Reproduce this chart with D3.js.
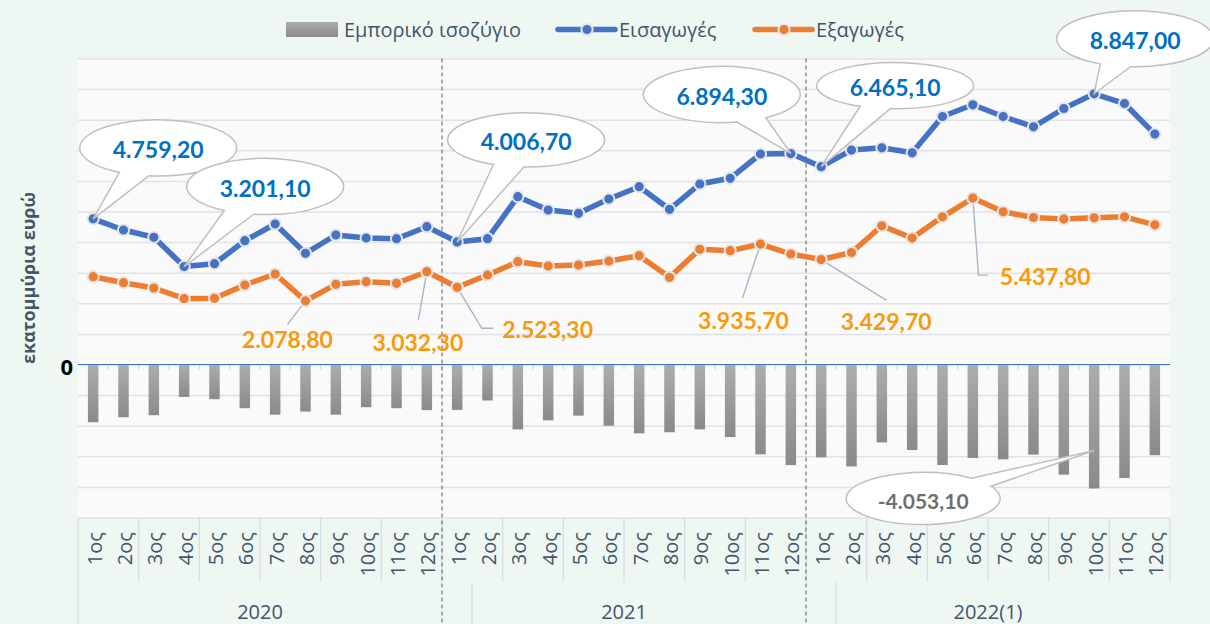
<!DOCTYPE html>
<html>
<head>
<meta charset="utf-8">
<script src="https://cdn.jsdelivr.net/npm/d3@7"></script>
<style>
  html, body { margin: 0; padding: 0; background: #eff7f3; }
</style>
</head>
<body>
<div id="chart"></div>
<script>
// ---- data ----
var years = ["2020", "2021", "2022(1)"];
var months = ["1ος", "2ος", "3ος", "4ος", "5ος", "6ος", "7ος", "8ος", "9ος", "10ος", "11ος", "12ος"];
var seriesNames = ["Εμπορικό ισοζύγιο", "Εισαγωγές", "Εξαγωγές"];
var yTitle = "εκατομμύρια ευρώ";

var imports = [
  4759.2, 4395, 4157, 3201.1, 3294, 4046, 4591, 3634, 4232, 4134, 4111, 4503,
  4006.7, 4111, 5484, 5049, 4941, 5408, 5810, 5072, 5899, 6085, 6879, 6894.3,
  6465.1, 7007, 7082, 6918, 8105, 8487, 8105, 7768, 8366, 8847.0, 8529, 7529
];
var exportsV = [
  2869, 2673, 2500, 2150, 2163, 2598, 2958, 2078.8, 2621, 2706, 2654, 3032.3,
  2523.3, 2925, 3359, 3219, 3252, 3382, 3556, 2850, 3765, 3719, 3935.7, 3611,
  3429.7, 3660, 4533, 4131, 4827, 5437.8, 4990, 4804, 4752, 4793.9, 4827, 4565
];
var balance = [
  -1886, -1722, -1657, -1060, -1134, -1428, -1640, -1540, -1640, -1395, -1428, -1490,
  -1483.4, -1176, -2120, -1825, -1670, -2000, -2250, -2215, -2120, -2370, -2935, -3287,
  -3035.4, -3330, -2545, -2795, -3285, -3055, -3100, -2945, -3600, -4053.1, -3710, -2964
];
var yTicks = d3.range(-5000, 10001, 1000);

// which points carry a value label
var importLabels = [0, 3, 12, 23, 24, 33];
var exportLabels = [7, 11, 12, 22, 24, 29];
var balanceLabels = [33];

// ---- layout ----
var width = 1210, height = 624;
var plot = {left: 78, right: 1170, top: 58.5, bottom: 517.5};
var blue = "#4472c4", orange = "#ed7d31", axisText = "#44546a";
var greek = "'Open Sans', 'Noto Sans', sans-serif";
var nums = "Lato, 'Open Sans', sans-serif";

var cats = [];
years.forEach(function(y) { months.forEach(function(m) { cats.push(y + "|" + m); }); });

var fmt = d3.formatLocale({decimal: ",", thousands: ".", grouping: [3], currency: ["", "€"], minus: "-"}).format(",.2f");

var svg = d3.select("#chart").append("svg")
  .attr("width", width)
  .attr("height", height)
  .style("display", "block");

var x = d3.scaleBand().domain(d3.range(cats.length)).range([plot.left, plot.right]).padding(0);
var bw = x.bandwidth();
var cx = function(i) { return x(i) + bw / 2; };
var y = d3.scaleLinear().domain([-5000, 10000]).range([plot.bottom, plot.top]);

var defs = svg.append("defs");
var grad = defs.append("linearGradient").attr("id", "barGrad")
  .attr("x1", 0).attr("y1", 0).attr("x2", 0).attr("y2", 1);
grad.append("stop").attr("offset", "0%").attr("stop-color", "#adadad");
grad.append("stop").attr("offset", "100%").attr("stop-color", "#8a8a8a");

// background
svg.append("rect").attr("width", width).attr("height", height).attr("fill", "#eff7f3");
svg.append("rect")
  .attr("x", plot.left).attr("y", plot.top)
  .attr("width", plot.right - plot.left).attr("height", plot.bottom - plot.top)
  .attr("fill", "#fafafa");

// gridlines
svg.append("g")
  .attr("transform", "translate(" + plot.left + ",0)")
  .call(d3.axisLeft(y).tickValues(yTicks).tickSize(-(plot.right - plot.left)).tickFormat(""))
  .call(function(g) {
    g.select(".domain").remove();
    g.selectAll(".tick line").attr("stroke", "#dfe2e8").attr("stroke-width", 1.5);
  });

// category axis separators (every second month)
var sepIdx = d3.range(0, cats.length + 1, 2);
svg.append("g").selectAll("line").data(sepIdx).join("line")
  .attr("x1", function(d) { return d < cats.length ? x(d) : plot.right; })
  .attr("x2", function(d) { return d < cats.length ? x(d) : plot.right; })
  .attr("y1", plot.bottom).attr("y2", 582)
  .attr("stroke", "#dadde3").attr("stroke-width", 1.3);

// year level separators
svg.append("g").selectAll("line").data([plot.left, 472, 836]).join("line")
  .attr("x1", function(d) { return d; }).attr("x2", function(d) { return d; })
  .attr("y1", 582).attr("y2", height)
  .attr("stroke", "#dadde3").attr("stroke-width", 1.3);

// bars
svg.append("g").selectAll("rect").data(balance).join("rect")
  .attr("x", function(d, i) { return cx(i) - 5.25; })
  .attr("y", y(0))
  .attr("width", 10.5)
  .attr("height", function(d) { return y(d) - y(0); })
  .attr("fill", "url(#barGrad)");

// zero line with minor ticks
svg.append("g").selectAll("line").data(d3.range(1, cats.length)).join("line")
  .attr("x1", function(i) { return x(i); }).attr("x2", function(i) { return x(i); })
  .attr("y1", y(0)).attr("y2", y(0) + 5)
  .attr("stroke", "#d5d8de").attr("stroke-width", 1.2);
svg.append("line")
  .attr("x1", plot.left).attr("x2", plot.right)
  .attr("y1", y(0)).attr("y2", y(0))
  .attr("stroke", blue).attr("stroke-width", 1.2);

// year dividers (dashed)
svg.append("g").selectAll("line").data([12, 24]).join("line")
  .attr("x1", function(i) { return x(i); }).attr("x2", function(i) { return x(i); })
  .attr("y1", plot.top).attr("y2", height)
  .attr("stroke", "#5a5a5a").attr("stroke-width", 1).attr("stroke-dasharray", "4,3");

// export labels: text offset, anchor and leader bend points (relative to the point)
var exportOffsets = [
  {dx: -18, dy: 38, anchor: "middle", leader: [[-18, 23.5]]},
  {dx: -9, dy: 70, anchor: "middle", leader: [[-8.4, 48]]},
  {dx: 45, dy: 41.5, anchor: "start", leader: [[24.7, 41], [36.3, 41]]},
  {dx: -17, dy: 76, anchor: "middle", leader: [[-18, 54]]},
  {dx: 65, dy: 61, anchor: "middle", leader: [[65, 40.5]]},
  {dx: 27, dy: 78, anchor: "start", leader: [[5.7, 77], [15.3, 77]]}
];
// leader lines go under the markers
var leadG = svg.append("g");
exportLabels.forEach(function(idx, k) {
  var px = cx(idx), py = y(exportsV[idx]);
  var o = exportOffsets[k];
  var pts = [[px, py]].concat(o.leader.map(function(p) { return [px + p[0], py + p[1]]; }));
  leadG.append("path")
    .attr("d", d3.line()(pts))
    .attr("fill", "none").attr("stroke", "#a9b6c8").attr("stroke-width", 1.4);
});

// lines and markers
function drawSeries(values, color) {
  var line = d3.line().x(function(d, i) { return cx(i); }).y(function(d) { return y(d); });
  svg.append("path").datum(values)
    .attr("d", line)
    .attr("fill", "none")
    .attr("stroke", color)
    .attr("stroke-width", 5.5)
    .attr("stroke-linejoin", "round");
  svg.append("g").selectAll("circle").data(values).join("circle")
    .attr("cx", function(d, i) { return cx(i); })
    .attr("cy", function(d) { return y(d); })
    .attr("r", 5.6)
    .attr("fill", color)
    .attr("stroke", "#e6e6e6")
    .attr("stroke-width", 2);
}
drawSeries(exportsV, orange);
drawSeries(imports, blue);

exportLabels.forEach(function(idx, k) {
  var px = cx(idx), py = y(exportsV[idx]);
  var o = exportOffsets[k];
  svg.append("text")
    .attr("x", px + o.dx).attr("y", py + o.dy)
    .attr("text-anchor", o.anchor).attr("dominant-baseline", "central")
    .attr("font-family", nums).attr("font-weight", "bold").attr("font-size", 23)
    .attr("fill", "#f79a0e")
    .text(fmt(exportsV[idx]));
});

// ---- callouts ----
function calloutPath(ex, ey, rx, ry, tx, ty) {
  var th = Math.atan2((ty - ey) / ry, (tx - ex) / rx), d = 0.2;
  var p1 = [ex + rx * Math.cos(th - d), ey + ry * Math.sin(th - d)];
  var p2 = [ex + rx * Math.cos(th + d), ey + ry * Math.sin(th + d)];
  return "M" + p1 + "L" + tx + "," + ty + "L" + p2 + "A" + rx + "," + ry + " 0 1 1 " + p1 + "Z";
}

// ellipse offsets from each labelled import point
var importOffsets = [[65, -71, 28], [81, -80, 28], [69, -102, 27], [-69, -59, 28], [74, -81, 23], [41, -55, 28]];
var callG = svg.append("g");
importLabels.forEach(function(idx, k) {
  var px = cx(idx), py = y(imports[idx]);
  var o = importOffsets[k];
  var ex = px + o[0], ey = py + o[1];
  callG.append("path")
    .attr("d", calloutPath(ex, ey, 78.5, o[2], px, py))
    .attr("fill", "#ffffff").attr("stroke", "#bfbfbf").attr("stroke-width", 1.5);
  callG.append("text")
    .attr("x", ex).attr("y", ey + 1)
    .attr("text-anchor", "middle").attr("dominant-baseline", "central")
    .attr("font-family", nums).attr("font-weight", "bold").attr("font-size", 23)
    .attr("fill", "#0070c0")
    .text(fmt(imports[idx]));
});

balanceLabels.forEach(function(idx) {
  var px = cx(idx), py = y(balance[idx]) - 38;
  var ex = px - 171, ey = y(balance[idx]) + 10;
  callG.append("path")
    .attr("d", calloutPath(ex, ey, 77, 26, px, py))
    .attr("fill", "#ffffff").attr("stroke", "#bfbfbf").attr("stroke-width", 1.5);
  callG.append("text")
    .attr("x", ex).attr("y", ey + 2)
    .attr("text-anchor", "middle").attr("dominant-baseline", "central")
    .attr("font-family", nums).attr("font-weight", "bold").attr("font-size", 21)
    .attr("fill", "#6e6e6e")
    .text(fmt(balance[idx]));
});

// ---- axes text ----
svg.append("g").selectAll("text").data(cats).join("text")
  .attr("transform", function(d, i) { return "translate(" + (cx(i) + 1) + ",532) rotate(-90)"; })
  .attr("text-anchor", "end").attr("dominant-baseline", "central")
  .attr("font-family", greek).attr("font-size", 20)
  .attr("fill", axisText)
  .text(function(d) { return d.split("|")[1]; });

svg.append("g").selectAll("text").data(years).join("text")
  .attr("x", function(d, g) { return (x(g * 12) + x(g * 12 + 11) + bw) / 2; })
  .attr("y", 611)
  .attr("text-anchor", "middle").attr("dominant-baseline", "central")
  .attr("font-family", greek).attr("font-size", 20)
  .attr("fill", axisText)
  .text(function(d) { return d; });

svg.append("text")
  .attr("x", 73).attr("y", y(0) + 1)
  .attr("text-anchor", "end").attr("dominant-baseline", "central")
  .attr("font-family", greek).attr("font-weight", "bold").attr("font-size", 22)
  .attr("fill", "#000")
  .text("0");

svg.append("text")
  .attr("transform", "translate(28,278) rotate(-90)")
  .attr("text-anchor", "middle").attr("dominant-baseline", "central")
  .attr("font-family", greek).attr("font-weight", "bold").attr("font-size", 18)
  .attr("fill", axisText)
  .text(yTitle);

// ---- legend ----
var leg = svg.append("g").attr("font-family", greek).attr("font-size", 20).attr("fill", axisText);
leg.append("rect").attr("x", 286).attr("y", 22).attr("width", 52).attr("height", 15).attr("fill", "url(#barGrad)");
leg.append("text").attr("x", 344).attr("y", 29.5).attr("dominant-baseline", "central").text(seriesNames[0]);
[[558, blue, seriesNames[1]], [755, orange, seriesNames[2]]].forEach(function(s) {
  leg.append("line").attr("x1", s[0]).attr("x2", s[0] + 57).attr("y1", 29.5).attr("y2", 29.5)
    .attr("stroke", s[1]).attr("stroke-width", 5.5).attr("stroke-linecap", "round");
  leg.append("circle").attr("cx", s[0] + 29).attr("cy", 29.5).attr("r", 5.6)
    .attr("fill", s[1]).attr("stroke", "#e6e6e6").attr("stroke-width", 2);
  leg.append("text").attr("x", s[0] + 61).attr("y", 29.5).attr("dominant-baseline", "central").text(s[2]);
});
</script>
</body>
</html>
